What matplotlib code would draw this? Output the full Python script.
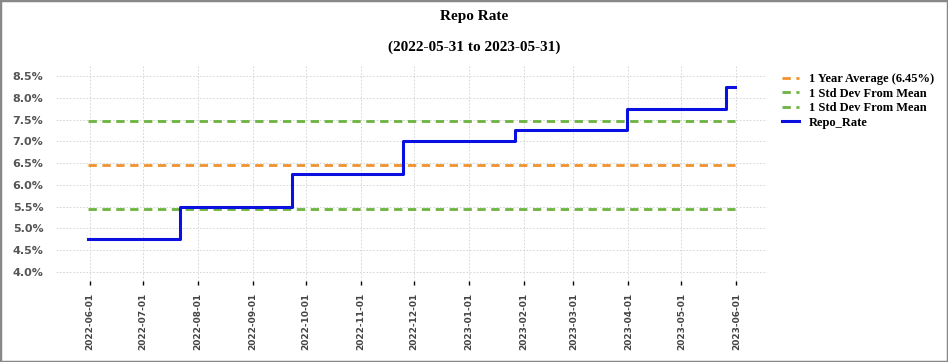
import matplotlib.pyplot as plt
import matplotlib.dates as mdates
import matplotlib.ticker as mticker
import pandas as pd
from matplotlib.patches import Rectangle

# repo rate decisions (date the new rate applies, rate in %)
change_dates = ['2022-05-31', '2022-07-22', '2022-09-23', '2022-11-25',
                '2023-01-27', '2023-03-31', '2023-05-26', '2023-05-31']
repo_rate = [4.75, 5.50, 6.25, 7.00, 7.25, 7.75, 8.25, 8.25]

start_date = '2022-05-31'
end_date = '2023-05-31'
year_avg = 6.45
std_upper = 7.46
std_lower = 5.44

dates = pd.to_datetime(change_dates)
span = pd.to_datetime([start_date, end_date])

plt.rcParams.update({"font.size": 9})

fig = plt.figure(figsize=(9.48, 3.62), dpi=100)
ax = fig.add_axes([0.059, 0.225, 0.75, 0.595])

ax.plot(span, [year_avg, year_avg], ls=(0, (3, 2)), lw=2, color='#f0922d',
        label='1 Year Average (6.45%)')
ax.plot(span, [std_upper, std_upper], ls=(0, (3, 2)), lw=2, color='#6cb33f',
        label='1 Std Dev From Mean')
ax.plot(span, [std_lower, std_lower], ls=(0, (3, 2)), lw=2, color='#6cb33f',
        label='1 Std Dev From Mean')
ax.step(dates, repo_rate, where='post', lw=2.2, color='#0a10e0', label='Repo_Rate')

ax.set_ylim(3.8, 8.75)
ax.yaxis.set_major_locator(mticker.MultipleLocator(0.5))
ax.yaxis.set_major_formatter(mticker.FuncFormatter(lambda v, p: f'{v:.1f}%'))
ax.xaxis.set_major_locator(mdates.MonthLocator())
ax.xaxis.set_major_formatter(mdates.DateFormatter('%Y-%m-%d'))

for lab in ax.get_xticklabels():
    lab.set_rotation(90)
    lab.set_fontweight('bold')
    lab.set_fontsize(6.5)
    lab.set_color('#444444')
for lab in ax.get_yticklabels():
    lab.set_fontweight('bold')
    lab.set_fontsize(8)
    lab.set_color('#555555')

ax.grid(True, ls=(0, (2, 2)), lw=0.6, color='#d0d0d0')
for s in ax.spines.values():
    s.set_visible(False)
ax.tick_params(axis='y', length=0, pad=9)
ax.tick_params(axis='x', length=3, width=1, pad=6)

ax.legend(loc='upper left', bbox_to_anchor=(1.005, 1.015), frameon=False,
          handlelength=1.4, handletextpad=0.8, labelspacing=0.2,
          prop={'family': 'Liberation Serif', 'weight': 'bold', 'size': 9})

fig.text(0.5, 0.955, 'Repo Rate', ha='center', va='center',
         family='Liberation Serif', weight='bold', fontsize=11)
fig.text(0.5, 0.87, '(2022-05-31 to 2023-05-31)', ha='center', va='center',
         family='Liberation Serif', weight='bold', fontsize=11)

fig.patches.append(Rectangle((0, 0), 1, 1, transform=fig.transFigure,
                             fill=False, edgecolor='#888888', lw=2.5))

fig.savefig('out.png', dpi=100)
